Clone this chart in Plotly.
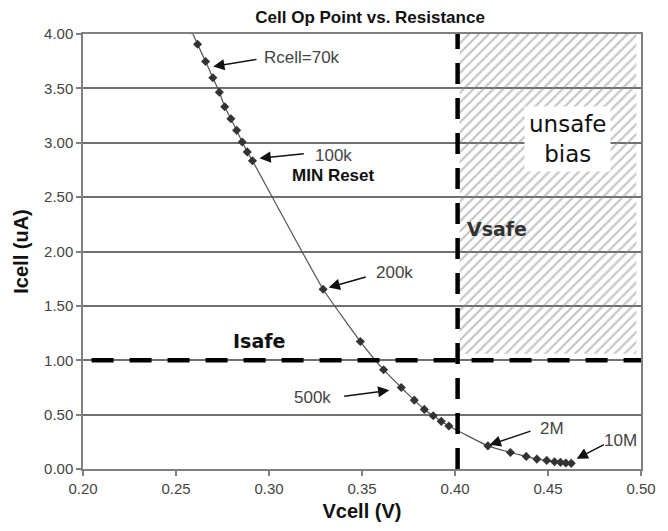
import plotly.graph_objects as go

# Data
vcell = [0.2581, 0.2616, 0.2659, 0.2698, 0.2733, 0.2762, 0.2795, 0.2826, 0.2856, 0.2883, 0.2911,
         0.3291, 0.3491, 0.3616, 0.3711, 0.3781, 0.3835, 0.3883, 0.3926, 0.3967,
         0.4177, 0.4298, 0.4383, 0.4440, 0.4493, 0.4535, 0.4567, 0.4596, 0.4625]
icell = [4.037, 3.906, 3.747, 3.598, 3.464, 3.331, 3.221, 3.114, 3.007, 2.916, 2.834,
         1.653, 1.172, 0.913, 0.749, 0.633, 0.548, 0.490, 0.438, 0.396,
         0.213, 0.152, 0.116, 0.091, 0.079, 0.067, 0.061, 0.055, 0.052]

x_ticks = [0.20, 0.25, 0.30, 0.35, 0.40, 0.45, 0.50]
y_ticks = [0.00, 0.50, 1.00, 1.50, 2.00, 2.50, 3.00, 3.50, 4.00]

v_safe = 0.4014
i_safe = 1.0
unsafe_x = [0.4025, 0.4975, 0.4975, 0.4025]
unsafe_y = [1.06, 1.06, 4.0, 4.0]

# (label, head_x, head_y, tail_x, tail_y, text_x, text_y)
labels = [
    ("Rcell=70k", 0.2700, 3.701, 0.2941, 3.769, 0.3177, 3.784),
    ("100k", 0.2949, 2.858, 0.3195, 2.901, 0.3347, 2.879),
    ("200k", 0.3321, 1.668, 0.3528, 1.769, 0.3674, 1.808),
    ("500k", 0.3647, 0.724, 0.3396, 0.667, 0.3234, 0.658),
    ("2M", 0.4186, 0.222, 0.4414, 0.353, 0.4519, 0.374),
    ("10M", 0.4654, 0.094, 0.4809, 0.231, 0.4888, 0.262),
]

FONT = "Liberation Sans, Arial, sans-serif"

fig = go.Figure()

# hatched unsafe region
fig.add_trace(go.Scatter(
    x=unsafe_x, y=unsafe_y, fill="toself", mode="none",
    fillcolor="rgba(0,0,0,0)",
    fillpattern=dict(shape="/", fgcolor="#8a8a8a", bgcolor="rgba(0,0,0,0)", size=7, solidity=0.32),
    hoverinfo="skip", showlegend=False,
))

fig.add_trace(go.Scatter(
    x=vcell, y=icell, mode="lines+markers",
    line=dict(color="#555555", width=1.2, shape="spline", smoothing=0.4),
    marker=dict(symbol="diamond", size=7, color="#333333"),
    showlegend=False,
))

annotations = []
for lab, hx, hy, tx, ty, lx, ly in labels:
    annotations.append(dict(x=hx, y=hy, ax=tx, ay=ty, xref="x", yref="y", axref="x", ayref="y",
                            text="", showarrow=True, arrowhead=2, arrowsize=1.5, arrowwidth=1.5,
                            arrowcolor="#111111"))
    annotations.append(dict(x=lx, y=ly, xref="x", yref="y", text=lab, showarrow=False,
                            font=dict(family=FONT, size=17, color="#444444")))

annotations += [
    dict(x=0.3347, y=2.697, xref="x", yref="y", text="<b>MIN Reset</b>", showarrow=False,
         font=dict(family=FONT, size=17, color="#111111")),
    dict(x=0.2945, y=1.181, xref="x", yref="y", text="<b>Isafe</b>", showarrow=False,
         font=dict(family="DejaVu Sans", size=19, color="#111111")),
    dict(x=0.4225, y=2.21, xref="x", yref="y", text="<b>Vsafe</b>", showarrow=False,
         font=dict(family="DejaVu Sans", size=19, color="#333333")),
    dict(x=0.4603, y=3.032, xref="x", yref="y", text="unsafe<br>bias", showarrow=False,
         bgcolor="white", borderpad=4,
         font=dict(family="DejaVu Sans", size=23, color="#111111")),
]

shapes = [
    dict(type="line", xref="x", yref="y", x0=v_safe, x1=v_safe, y0=0, y1=4.0,
         line=dict(color="black", width=4.5, dash="21px,14px"), layer="above"),
    dict(type="line", xref="x", yref="y", x0=0.2046, x1=0.5, y0=i_safe, y1=i_safe,
         line=dict(color="black", width=4.5, dash="22px,16px"), layer="above"),
]

fig.update_layout(
    width=668, height=531,
    margin=dict(l=83, r=15, t=34, b=59),
    paper_bgcolor="white", plot_bgcolor="white",
    title=dict(text="<b>Cell Op Point vs. Resistance</b>", x=0.554, xanchor="center",
               y=1 - 17 / 531, yanchor="middle", font=dict(family=FONT, size=17, color="#111111")),
    annotations=annotations, shapes=shapes,
    xaxis=dict(range=[0.2, 0.5], tickvals=x_ticks, tickformat=".2f", showgrid=False,
               showline=True, linecolor="#808080", linewidth=1.5, mirror=True,
               ticks="outside", ticklen=5, tickcolor="#808080", tickwidth=1.5,
               tickfont=dict(family=FONT, size=15, color="#444444"), zeroline=False,
               title=dict(text="<b>Vcell (V)</b>", standoff=8,
                          font=dict(family=FONT, size=20, color="#111111"))),
    yaxis=dict(range=[0, 4.0], tickvals=y_ticks, tickformat=".2f", showgrid=True,
               gridcolor="#707070", gridwidth=1.5,
               showline=True, linecolor="#808080", linewidth=1.5, mirror=True,
               ticks="outside", ticklen=5, tickcolor="#808080", tickwidth=1.5,
               tickfont=dict(family=FONT, size=15, color="#444444"), zeroline=False,
               title=dict(text="<b>Icell (uA)</b>", standoff=10,
                          font=dict(family=FONT, size=20, color="#111111"))),
)

fig.write_html("out.html")
